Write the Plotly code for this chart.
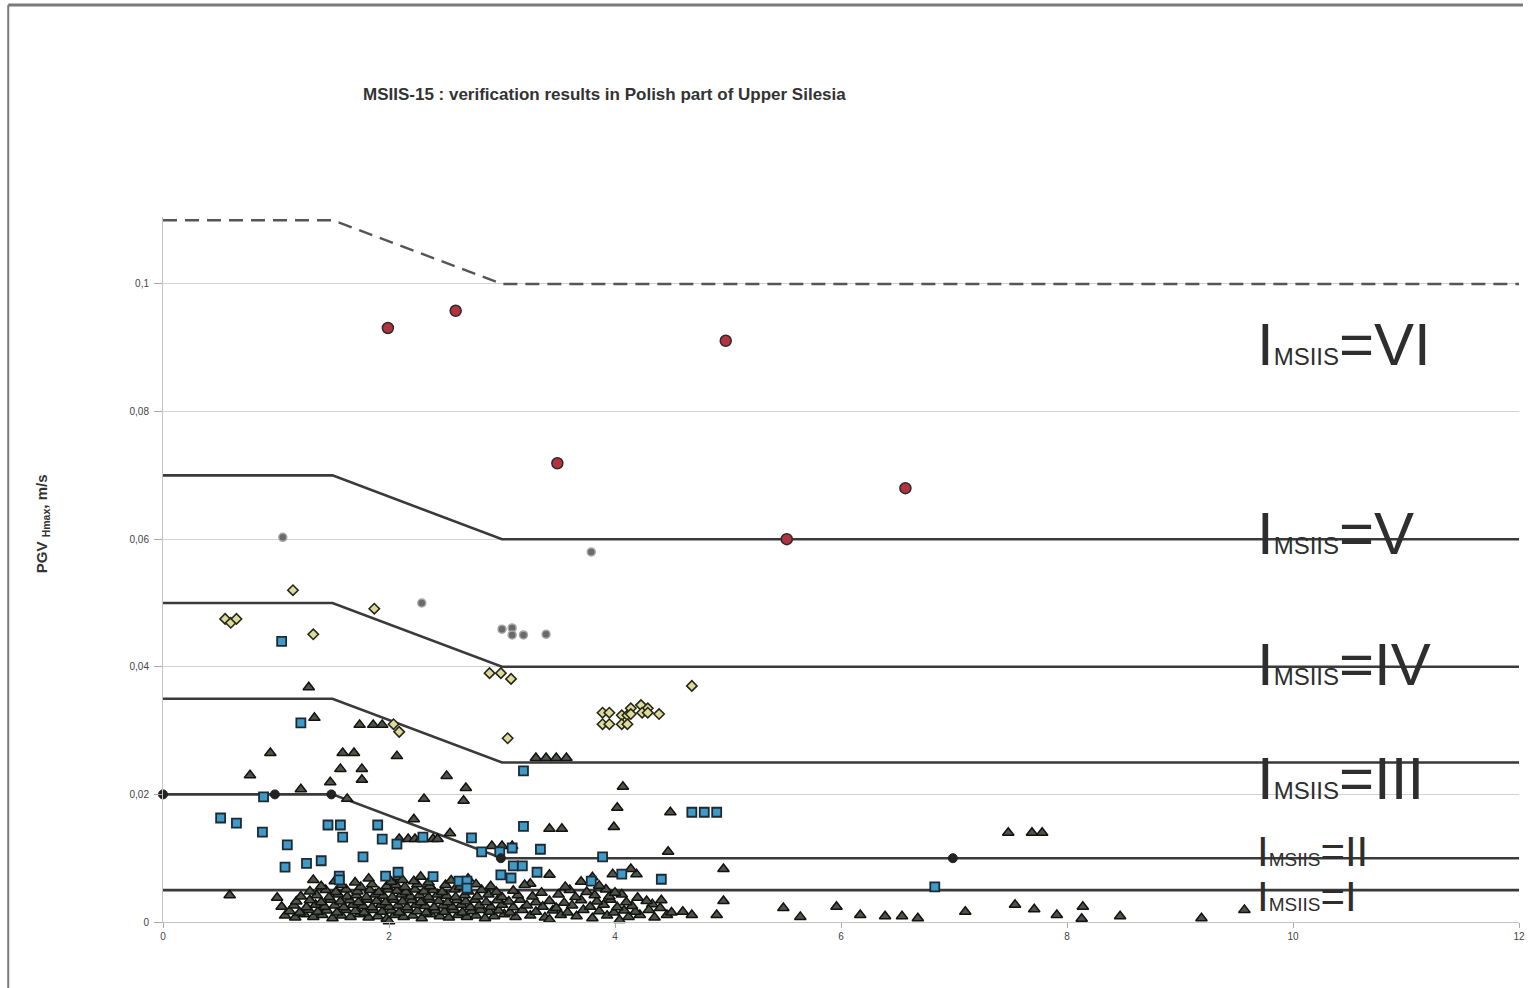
import plotly.graph_objects as go

# ---------------- data ----------------
# threshold curves (distance km, PGV m/s)
thr_x = [0, 1.5, 3, 12]
thr_VI = [0.11, 0.11, 0.10, 0.10]
thr_V = [0.07, 0.07, 0.06, 0.06]
thr_IV = [0.05, 0.05, 0.04, 0.04]
thr_III = [0.035, 0.035, 0.025, 0.025]
thr_II = [0.02, 0.02, 0.01, 0.01]
thr_I_x = [0, 12]
thr_I = [0.005, 0.005]

# observed I = VI (red circles)
red_x = [1.99, 2.59, 4.98, 3.49, 6.57, 5.52]
red_y = [0.0931, 0.0958, 0.0911, 0.0719, 0.0680, 0.0600]

# observed I = V (gray dots)
gray_x = [1.06, 2.29, 3.79, 3.00, 3.09, 3.09, 3.19, 3.39]
gray_y = [0.0603, 0.0500, 0.0580, 0.0459, 0.0461, 0.0450, 0.0450, 0.0451]

# observed I = IV (diamonds)
dia_x = [0.55, 0.60, 0.65, 1.15, 1.87, 1.33, 2.89, 2.99, 3.08, 2.04, 2.09, 3.05, 4.68,
         3.89, 3.95, 3.89, 3.95, 4.06, 4.11, 4.06, 4.11, 4.14, 4.14, 4.23, 4.29, 4.24, 4.29, 4.39]
dia_y = [0.0475, 0.0469, 0.0475, 0.0520, 0.0491, 0.0451, 0.0390, 0.0390, 0.0381, 0.0310, 0.0298, 0.0288, 0.0370,
         0.0328, 0.0328, 0.0310, 0.0310, 0.0324, 0.0324, 0.0310, 0.0310, 0.0335, 0.0326, 0.0340, 0.0335, 0.0328, 0.0328, 0.0326]

# observed I = III (squares)
sq_x = [1.05, 1.22, 3.19, 0.51, 0.65, 0.89, 0.88, 1.10, 1.08, 1.27, 1.40, 1.46, 1.57, 1.59, 1.56, 1.56,
        1.77, 1.90, 1.94, 2.07, 2.30, 1.97, 2.08, 2.39, 2.62, 2.69, 2.69, 2.73, 2.82, 2.98, 3.09, 3.19,
        3.34, 2.99, 3.08, 3.10, 3.18, 3.31, 3.89, 4.06, 3.79, 4.41, 4.68, 4.79, 4.90, 6.83]
sq_y = [0.0440, 0.0312, 0.0237, 0.0163, 0.0155, 0.0196, 0.0141, 0.0121, 0.0086, 0.0092, 0.0096, 0.0152, 0.0152, 0.0133, 0.0072, 0.0066,
        0.0102, 0.0152, 0.0130, 0.0122, 0.0133, 0.0072, 0.0078, 0.0071, 0.0064, 0.0064, 0.0053, 0.0132, 0.0110, 0.0110, 0.0116, 0.0150,
        0.0114, 0.0074, 0.0069, 0.0088, 0.0088, 0.0078, 0.0102, 0.0075, 0.0064, 0.0067, 0.0172, 0.0172, 0.0172, 0.0055]

# observed I = II and I (triangles) - scattered points
tri_sparse_x = [1.29, 1.34, 1.74, 1.86, 1.94, 0.95, 1.59, 1.69, 2.07, 1.57, 1.76, 1.76, 2.51, 2.68, 2.66, 0.77,
                1.48, 1.22, 1.63, 2.31, 2.22, 2.54, 2.09, 2.17, 2.23, 2.28, 2.39, 2.43, 3.30, 3.39, 3.48, 3.57,
                3.42, 3.53, 2.91, 3.00, 3.09, 3.42, 3.25, 4.07, 4.02, 3.99, 4.49, 4.47, 4.96, 3.98, 4.19, 4.14,
                4.96, 4.60, 4.68, 4.90, 4.46, 4.41, 4.33, 0.59, 1.01,
                7.48, 7.69, 7.78, 5.49, 5.64, 5.96, 6.17, 6.39, 6.54, 6.68, 7.10, 7.54, 7.71, 7.91, 8.14, 8.13,
                8.47, 9.19, 9.57]
tri_sparse_y = [0.0368, 0.0320, 0.0309, 0.0309, 0.0309, 0.0265, 0.0265, 0.0265, 0.0260, 0.0240, 0.0240, 0.0223, 0.0229, 0.0210, 0.0190, 0.0230,
                0.0219, 0.0208, 0.0193, 0.0193, 0.0161, 0.0139, 0.0130, 0.0130, 0.0130, 0.0130, 0.0130, 0.0130, 0.0257, 0.0257, 0.0257, 0.0257,
                0.0146, 0.0146, 0.0119, 0.0119, 0.0119, 0.0074, 0.0060, 0.0212, 0.0179, 0.0149, 0.0172, 0.0110, 0.0083, 0.0075, 0.0075, 0.0083,
                0.0033, 0.0016, 0.0011, 0.0011, 0.0011, 0.0034, 0.0028, 0.0042, 0.0038,
                0.0140, 0.0140, 0.0140, 0.0022, 0.0008, 0.0024, 0.0011, 0.0009, 0.0009, 0.0006, 0.0016, 0.0027, 0.0020, 0.0011, 0.0024, 0.0005,
                0.0009, 0.0006, 0.0019]

# dense cluster of triangles near the ground level values
tri_dense = [
    (1.08, 0.0010), (1.17, 0.0007), (1.25, 0.0012), (1.33, 0.0008), (1.41, 0.0011), (1.50, 0.0006), (1.58, 0.0010),
    (1.66, 0.0008), (1.74, 0.0012), (1.82, 0.0007), (1.90, 0.0009), (1.98, 0.0005), (2.00, 0.0001), (2.05, 0.0011),
    (2.13, 0.0008), (2.21, 0.0010), (2.29, 0.0006), (2.37, 0.0012), (2.45, 0.0009), (2.53, 0.0007), (2.61, 0.0011),
    (2.69, 0.0008), (2.77, 0.0010), (2.85, 0.0006), (2.93, 0.0009), (3.02, 0.0012), (3.12, 0.0008), (3.25, 0.0010),
    (3.38, 0.0007), (3.42, 0.0004), (3.52, 0.0011), (3.66, 0.0009), (3.80, 0.0006), (3.93, 0.0010), (4.04, 0.0003),
    (4.12, 0.0008), (4.22, 0.0011), (4.35, 0.0007),
    (1.12, 0.0017), (1.21, 0.0015), (1.29, 0.0019), (1.37, 0.0016), (1.45, 0.0018), (1.54, 0.0015), (1.62, 0.0019),
    (1.70, 0.0017), (1.78, 0.0015), (1.86, 0.0019), (1.94, 0.0016), (2.02, 0.0018), (2.09, 0.0015), (2.17, 0.0019),
    (2.25, 0.0017), (2.33, 0.0015), (2.41, 0.0018), (2.49, 0.0016), (2.57, 0.0019), (2.65, 0.0015), (2.73, 0.0017),
    (2.81, 0.0019), (2.89, 0.0016), (2.97, 0.0018), (3.07, 0.0015), (3.18, 0.0019), (3.30, 0.0016), (3.45, 0.0018),
    (3.58, 0.0015), (3.72, 0.0019), (3.86, 0.0017), (3.99, 0.0015), (4.08, 0.0018), (4.18, 0.0016), (4.30, 0.0019),
    (4.50, 0.0015),
    (1.05, 0.0024), (1.16, 0.0026), (1.27, 0.0023), (1.35, 0.0027), (1.43, 0.0024), (1.52, 0.0026), (1.60, 0.0023),
    (1.68, 0.0027), (1.77, 0.0025), (1.85, 0.0023), (1.93, 0.0027), (2.00, 0.0024), (2.08, 0.0026), (2.16, 0.0023),
    (2.24, 0.0027), (2.32, 0.0025), (2.40, 0.0023), (2.48, 0.0026), (2.56, 0.0024), (2.64, 0.0027), (2.72, 0.0023),
    (2.80, 0.0026), (2.90, 0.0024), (3.00, 0.0027), (3.10, 0.0023), (3.22, 0.0026), (3.36, 0.0024), (3.48, 0.0022),
    (3.62, 0.0026), (3.78, 0.0024), (3.90, 0.0027), (4.02, 0.0023), (4.15, 0.0025), (4.40, 0.0022),
    (1.18, 0.0032), (1.30, 0.0034), (1.40, 0.0031), (1.48, 0.0035), (1.57, 0.0032), (1.65, 0.0034), (1.73, 0.0031),
    (1.81, 0.0035), (1.89, 0.0033), (1.97, 0.0031), (2.04, 0.0035), (2.12, 0.0032), (2.20, 0.0034), (2.28, 0.0031),
    (2.36, 0.0035), (2.44, 0.0033), (2.52, 0.0031), (2.60, 0.0034), (2.68, 0.0032), (2.76, 0.0035), (2.86, 0.0031),
    (2.96, 0.0034), (3.06, 0.0032), (3.16, 0.0035), (3.30, 0.0031), (3.42, 0.0033), (3.55, 0.0030), (3.70, 0.0034),
    (3.84, 0.0032), (3.96, 0.0035), (4.10, 0.0031), (4.28, 0.0033),
    (1.22, 0.0040), (1.36, 0.0042), (1.47, 0.0039), (1.55, 0.0043), (1.63, 0.0040), (1.71, 0.0042), (1.80, 0.0039),
    (1.88, 0.0043), (1.95, 0.0041), (2.03, 0.0039), (2.11, 0.0043), (2.19, 0.0040), (2.27, 0.0042), (2.35, 0.0039),
    (2.43, 0.0043), (2.51, 0.0041), (2.59, 0.0039), (2.67, 0.0042), (2.78, 0.0040), (2.88, 0.0043), (3.00, 0.0039),
    (3.14, 0.0042), (3.27, 0.0040), (3.50, 0.0043), (3.65, 0.0039), (3.82, 0.0042), (3.95, 0.0040), (4.06, 0.0043),
    (4.20, 0.0038),
    (1.30, 0.0048), (1.44, 0.0050), (1.53, 0.0047), (1.62, 0.0051), (1.72, 0.0048), (1.83, 0.0050), (1.91, 0.0047),
    (1.99, 0.0051), (2.07, 0.0049), (2.15, 0.0047), (2.23, 0.0051), (2.31, 0.0048), (2.39, 0.0050), (2.47, 0.0047),
    (2.58, 0.0051), (2.70, 0.0048), (2.82, 0.0050), (2.95, 0.0047), (3.10, 0.0049), (3.35, 0.0046), (3.60, 0.0050),
    (3.75, 0.0047), (3.92, 0.0051), (4.00, 0.0046),
    (1.40, 0.0056), (1.58, 0.0058), (1.75, 0.0055), (1.85, 0.0059), (1.98, 0.0056), (2.06, 0.0058), (2.14, 0.0055),
    (2.25, 0.0059), (2.36, 0.0056), (2.50, 0.0058), (2.63, 0.0055), (2.77, 0.0059), (2.90, 0.0056), (3.20, 0.0058),
    (3.56, 0.0055), (3.86, 0.0057),
    (1.33, 0.0066), (1.52, 0.0064), (1.70, 0.0062), (1.82, 0.0068), (2.02, 0.0063), (2.08, 0.0070), (2.12, 0.0066),
    (2.22, 0.0064), (2.35, 0.0062), (2.55, 0.0065), (2.28, 0.0071), (2.70, 0.0068), (3.70, 0.0063), (3.80, 0.0070),
]

# black dots on the II threshold curve
blk_x = [0, 0.99, 1.49, 2.99, 6.99]
blk_y = [0.020, 0.020, 0.020, 0.0100, 0.0100]

y_ticks = [0, 0.02, 0.04, 0.06, 0.08, 0.1]
y_tick_text = ["0", "0,02", "0,04", "0,06", "0,08", "0,1"]
x_ticks = [0, 2, 4, 6, 8, 10, 12]

labels = ["VI", "V", "IV", "III", "II", "I"]
label_pos = [0.0905, 0.0609, 0.0403, 0.0225, 0.0110, 0.0040]

# ---------------- figure ----------------
fig = go.Figure()

LINE_C = "#3a3a3a"
for ys in [thr_V, thr_IV, thr_III, thr_II]:
    fig.add_trace(go.Scatter(x=thr_x, y=ys, mode="lines",
                             line=dict(color=LINE_C, width=2.6), hoverinfo="skip"))
fig.add_trace(go.Scatter(x=thr_I_x, y=thr_I, mode="lines",
                         line=dict(color=LINE_C, width=2.6), hoverinfo="skip"))
fig.add_trace(go.Scatter(x=thr_x, y=thr_VI, mode="lines",
                         line=dict(color="#555555", width=2.4, dash="14px,8px"), hoverinfo="skip"))

tri_x = tri_sparse_x + [p[0] for p in tri_dense]
tri_y = tri_sparse_y + [p[1] for p in tri_dense]
fig.add_trace(go.Scatter(x=tri_x, y=tri_y, mode="markers", cliponaxis=False,
                         marker=dict(symbol="triangle-up", size=10, color="#4f5448",
                                     line=dict(color="#121212", width=1.5))))
fig.add_trace(go.Scatter(x=sq_x, y=sq_y, mode="markers",
                         marker=dict(symbol="square", size=9, color="#3f9ac8",
                                     line=dict(color="#1e2a33", width=1.8))))
fig.add_trace(go.Scatter(x=dia_x, y=dia_y, mode="markers",
                         marker=dict(symbol="diamond", size=8, color="#dcdb9c",
                                     line=dict(color="#26261a", width=1.6))))
fig.add_trace(go.Scatter(x=gray_x, y=gray_y, mode="markers",
                         marker=dict(symbol="circle", size=8, color="#6a6a6a",
                                     line=dict(color="#a8a8a8", width=1.5))))
fig.add_trace(go.Scatter(x=red_x, y=red_y, mode="markers",
                         marker=dict(symbol="circle", size=11, color="#b3323f",
                                     line=dict(color="#2b2b2b", width=1.5))))
fig.add_trace(go.Scatter(x=blk_x, y=blk_y, mode="markers", cliponaxis=False,
                         marker=dict(symbol="circle", size=9, color="#222222",
                                     line=dict(color="#222222", width=1))))

# intensity labels on the right (subscript drawn as smaller text on the baseline)
label_big = [60, 60, 60, 60, 42, 42]
label_small = [24, 24, 24, 24, 19, 19]
for lab, ly, fb, fs in zip(labels, label_pos, label_big, label_small):
    fig.add_annotation(x=9.667, y=ly, xref="x", yref="y", xanchor="left", yanchor="middle",
                       showarrow=False,
                       text=f"I<span style='font-size:{fs}px'>MSIIS</span>=" + lab,
                       font=dict(family="Liberation Sans, Arial", size=fb, color="#2e2e2e"))

# title
fig.add_annotation(x=(361 - 163) / 1358, y=(922 - 94) / 705, xref="paper", yref="paper",
                   xanchor="left", yanchor="middle", showarrow=False,
                   text="<b>MSIIS-15 : verification results in Polish part of Upper Silesia</b>",
                   font=dict(family="Liberation Sans, Arial", size=17, color="#333333"))
# y-axis title
fig.add_annotation(x=(42 - 163) / 1358, y=(922 - 524) / 705, xref="paper", yref="paper",
                   xanchor="center", yanchor="middle", showarrow=False, textangle=-90,
                   text="<b>PGV <sub>Hmax</sub>, m/s</b>",
                   font=dict(family="Liberation Sans, Arial", size=15, color="#333333"))

# outer frame (top and left)
fig.add_shape(type="line", xref="paper", yref="paper",
              x0=(8 - 163) / 1358, x1=(1525 - 163) / 1358, y0=(922 - 5) / 705, y1=(922 - 5) / 705,
              line=dict(color="#7a7a7a", width=3))
fig.add_shape(type="line", xref="paper", yref="paper",
              x0=(8 - 163) / 1358, x1=(8 - 163) / 1358, y0=(922 - 5) / 705, y1=(922 - 990) / 705,
              line=dict(color="#7a7a7a", width=2))

fig.update_layout(
    width=1537, height=988,
    margin=dict(l=163, r=16, t=217, b=66, pad=0),
    paper_bgcolor="white", plot_bgcolor="white",
    showlegend=False,
    font=dict(family="Liberation Sans, Arial", color="#444444"),
)
fig.update_xaxes(range=[0, 12], tickvals=x_ticks, ticks="outside", ticklen=5, tickcolor="#aaaaaa",
                 showline=True, linecolor="#c4c4c4", linewidth=1, showgrid=False, zeroline=False,
                 tickfont=dict(size=10, color="#444444"))
fig.update_yaxes(range=[0, 0.1105], tickvals=y_ticks, ticktext=y_tick_text, ticks="outside", ticklen=8,
                 tickcolor="#aaaaaa", showline=True, linecolor="#c4c4c4", linewidth=1,
                 showgrid=True, gridcolor="#d2d2d2", gridwidth=1, zeroline=False,
                 ticklabelstandoff=3,
                 tickfont=dict(size=10, color="#444444"))

fig.write_html("out.html")
